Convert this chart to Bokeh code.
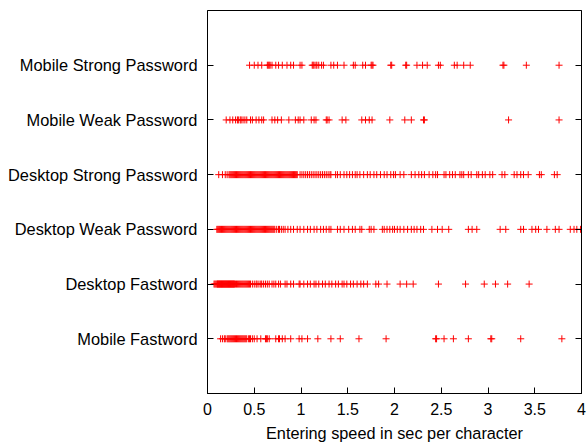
from bokeh.plotting import figure
from bokeh.models import FixedTicker, LinearAxis, CustomJSTickFormatter, Range1d
from bokeh.embed import file_html
from bokeh.resources import INLINE

categories = ["Mobile Fastword", "Desktop Fastword", "Desktop Weak Password",
              "Desktop Strong Password", "Mobile Weak Password", "Mobile Strong Password"]

mobile_fastword = [0.14, 0.16, 0.18, 0.19, 0.21, 0.22, 0.23, 0.24, 0.25, 0.26, 0.27, 0.28,
                   0.29, 0.30, 0.31, 0.32, 0.33, 0.34, 0.35, 0.36, 0.37, 0.38, 0.39, 0.40,
                   0.41, 0.42, 0.44, 0.45, 0.46, 0.48, 0.50, 0.53, 0.57, 0.62, 0.63, 0.64,
                   0.66, 0.73, 0.76, 0.77, 0.80, 0.83, 0.89, 0.98, 1.01, 1.07, 1.18, 1.32,
                   1.42, 1.62, 1.91, 2.44, 2.45, 2.53, 2.63, 2.79, 3.03, 3.04, 3.35, 3.79]

desktop_fastword = [0.07, 0.08, 0.09, 0.10, 0.105, 0.11, 0.115, 0.12, 0.125, 0.13, 0.135,
                    0.14, 0.145, 0.15, 0.155, 0.16, 0.165, 0.17, 0.175, 0.18, 0.185, 0.19,
                    0.195, 0.20, 0.205, 0.21, 0.215, 0.22, 0.225, 0.23, 0.235, 0.24, 0.245,
                    0.25, 0.255, 0.26, 0.265, 0.27, 0.275, 0.28, 0.285, 0.29, 0.30, 0.31,
                    0.32, 0.33, 0.34, 0.35, 0.36, 0.37, 0.38, 0.39, 0.40, 0.41, 0.42, 0.43,
                    0.44, 0.45, 0.46, 0.48, 0.50, 0.52, 0.53, 0.55, 0.57, 0.58, 0.60, 0.62,
                    0.64, 0.66, 0.69, 0.71, 0.73, 0.76, 0.78, 0.83, 0.85, 0.89, 0.92, 0.98,
                    0.99, 1.03, 1.07, 1.10, 1.14, 1.16, 1.19, 1.23, 1.26, 1.30, 1.33, 1.37,
                    1.40, 1.44, 1.46, 1.49, 1.53, 1.56, 1.60, 1.64, 1.67, 1.71, 1.80, 1.83,
                    1.92, 2.06, 2.13, 2.20, 2.47, 2.76, 2.96, 3.08, 3.21, 3.44]

desktop_weak = [0.10, 0.11, 0.12, 0.13, 0.14, 0.15, 0.16, 0.17, 0.18, 0.19, 0.20, 0.21,
                0.22, 0.23, 0.24, 0.25, 0.26, 0.27, 0.28, 0.29, 0.30, 0.31, 0.32, 0.33,
                0.34, 0.35, 0.36, 0.37, 0.38, 0.39, 0.40, 0.41, 0.42, 0.43, 0.44, 0.45,
                0.46, 0.47, 0.48, 0.49, 0.50, 0.51, 0.52, 0.53, 0.54, 0.55, 0.56, 0.57,
                0.58, 0.59, 0.60, 0.61, 0.62, 0.63, 0.64, 0.65, 0.66, 0.67, 0.68, 0.69,
                0.70, 0.71, 0.72, 0.74, 0.76, 0.77, 0.79, 0.81, 0.83, 0.86, 0.89, 0.92,
                0.96, 0.99, 1.03, 1.07, 1.10, 1.14, 1.17, 1.21, 1.24, 1.27, 1.30, 1.32,
                1.39, 1.42, 1.46, 1.51, 1.55, 1.58, 1.63, 1.65, 1.73, 1.75, 1.78, 1.87,
                1.89, 1.92, 1.95, 1.98, 2.00, 2.03, 2.06, 2.10, 2.14, 2.18, 2.21, 2.24,
                2.28, 2.31, 2.40, 2.46, 2.51, 2.58, 2.79, 2.83, 2.88, 3.13, 3.19, 3.35,
                3.38, 3.47, 3.51, 3.54, 3.63, 3.72, 3.76, 3.88, 3.92, 3.95, 3.99]

desktop_strong = [0.12, 0.16, 0.19, 0.21, 0.23, 0.24, 0.25, 0.26, 0.27, 0.28, 0.29, 0.30,
                  0.31, 0.32, 0.33, 0.34, 0.35, 0.36, 0.37, 0.38, 0.39, 0.40, 0.41, 0.42,
                  0.43, 0.44, 0.45, 0.46, 0.47, 0.48, 0.49, 0.50, 0.51, 0.52, 0.53, 0.54,
                  0.55, 0.56, 0.57, 0.58, 0.59, 0.60, 0.61, 0.62, 0.63, 0.64, 0.65, 0.66,
                  0.67, 0.68, 0.69, 0.70, 0.71, 0.72, 0.73, 0.74, 0.75, 0.76, 0.77, 0.78,
                  0.79, 0.80, 0.81, 0.82, 0.83, 0.84, 0.85, 0.86, 0.87, 0.88, 0.89, 0.90,
                  0.91, 0.92, 0.93, 0.94, 0.95, 0.96, 0.99, 1.01, 1.03, 1.05, 1.07, 1.09,
                  1.11, 1.13, 1.15, 1.17, 1.19, 1.21, 1.23, 1.25, 1.27, 1.29, 1.31, 1.32,
                  1.37, 1.39, 1.42, 1.46, 1.49, 1.52, 1.55, 1.58, 1.60, 1.63, 1.67, 1.71,
                  1.74, 1.78, 1.81, 1.85, 1.89, 1.92, 1.96, 1.99, 2.01, 2.06, 2.10, 2.18,
                  2.22, 2.26, 2.29, 2.32, 2.37, 2.41, 2.44, 2.46, 2.53, 2.55, 2.59, 2.62,
                  2.65, 2.70, 2.72, 2.74, 2.79, 2.82, 2.88, 2.90, 2.94, 2.97, 3.02, 3.05,
                  3.15, 3.18, 3.28, 3.31, 3.35, 3.38, 3.43, 3.55, 3.57, 3.71, 3.74]

mobile_weak = [0.20, 0.24, 0.27, 0.30, 0.32, 0.33, 0.35, 0.36, 0.38, 0.40, 0.42, 0.46,
               0.48, 0.52, 0.55, 0.58, 0.60, 0.69, 0.72, 0.75, 0.79, 0.87, 0.94, 0.97,
               0.99, 1.03, 1.11, 1.14, 1.16, 1.27, 1.28, 1.30, 1.44, 1.48, 1.65, 1.69,
               1.73, 1.76, 1.95, 2.11, 2.18, 2.31, 2.32, 3.22, 3.76]

mobile_strong = [0.45, 0.50, 0.54, 0.58, 0.64, 0.65, 0.66, 0.67, 0.69, 0.73, 0.76, 0.80,
                 0.85, 0.89, 0.92, 0.99, 1.01, 1.12, 1.13, 1.14, 1.16, 1.17, 1.19, 1.22,
                 1.24, 1.32, 1.35, 1.39, 1.46, 1.56, 1.58, 1.66, 1.69, 1.75, 1.76, 1.77,
                 1.96, 1.97, 2.12, 2.13, 2.24, 2.30, 2.35, 2.47, 2.49, 2.64, 2.67, 2.74,
                 2.81, 3.16, 3.17, 3.41, 3.76]

series = [mobile_fastword, desktop_fastword, desktop_weak, desktop_strong, mobile_weak, mobile_strong]

x_ticks = [0, 0.5, 1, 1.5, 2, 2.5, 3, 3.5, 4]

FONT = "Liberation Sans"

p = figure(width=587, height=445, output_backend="svg", toolbar_location=None,
           x_range=Range1d(0, 4), y_range=Range1d(0, 7),
           min_border_left=207, min_border_right=6, min_border_top=10, min_border_bottom=52)

for i, vals in enumerate(series):
    p.scatter(x=vals, y=[i + 1] * len(vals), marker="cross", size=7,
              line_color="#ff0000", line_width=1)

p.xgrid.grid_line_color = None
p.ygrid.grid_line_color = None
p.outline_line_color = "black"
p.outline_line_width = 1
p.background_fill_color = "white"
p.border_fill_color = "white"

xa = p.xaxis[0]
xa.ticker = FixedTicker(ticks=x_ticks)
xa.formatter = CustomJSTickFormatter(code="return tick.toString();")
xa.major_tick_in = 6
xa.major_tick_out = 0
xa.minor_tick_line_color = None
xa.axis_line_color = "black"
xa.major_label_text_font = FONT
xa.major_label_text_font_size = "16px"
xa.major_label_text_color = "black"
xa.major_label_standoff = 9
xa.axis_label = "Entering speed in sec per character"
xa.axis_label_text_font = FONT
xa.axis_label_text_font_size = "16.3px"
xa.axis_label_text_font_style = "normal"
xa.axis_label_text_color = "black"
xa.axis_label_standoff = 6

ya = p.yaxis[0]
ya.ticker = FixedTicker(ticks=[1, 2, 3, 4, 5, 6])
ya.major_label_overrides = {i + 1: c for i, c in enumerate(categories)}
ya.major_tick_in = 6
ya.major_tick_out = 0
ya.minor_tick_line_color = None
ya.axis_line_color = "black"
ya.major_label_text_font = FONT
ya.major_label_text_font_size = "16.4px"
ya.major_label_text_color = "black"
ya.major_label_standoff = 10

ra = LinearAxis(ticker=FixedTicker(ticks=[1, 2, 3, 4, 5, 6]),
                formatter=CustomJSTickFormatter(code="return '';"))
ra.major_tick_in = 6
ra.major_tick_out = 0
ra.minor_tick_line_color = None
ra.major_label_standoff = 0
ra.major_label_text_font_size = "0px"
p.add_layout(ra, "right")

open("out.html", "w").write(file_html(p, INLINE))
